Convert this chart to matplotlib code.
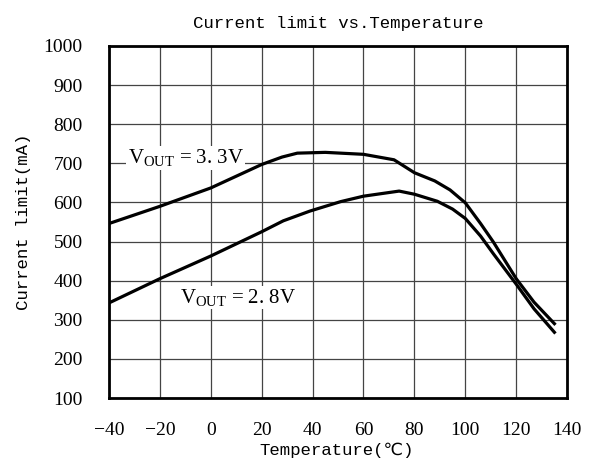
import matplotlib
matplotlib.use("Agg")
import matplotlib.pyplot as plt

# ---- data ----
temp_33 = [-40, -20, 0, 20, 28, 34, 45, 60, 72, 80, 88, 94, 100, 106, 111, 120, 127, 135]
cur_33 = [546, 590, 637, 697, 716, 726, 728, 723, 709, 676, 655, 632, 599, 546, 499, 405, 345, 290]

temp_28 = [-40, -20, 0, 20, 28.5, 39, 51, 60, 74, 80, 89, 95, 100, 106, 111, 120, 127, 135]
cur_28 = [343, 405, 463, 525, 553, 578, 602, 616, 629, 621, 603, 583, 559, 514, 469, 391, 328, 268]

x_ticks = [-40, -20, 0, 20, 40, 60, 80, 100, 120, 140]
y_ticks = [100, 200, 300, 400, 500, 600, 700, 800, 900, 1000]

title = "Current limit vs.Temperature"
x_label = "Temperature(℃)"
y_label = "Current limit(mA)"
label_33 = r"$\mathrm{V_{OUT}}$ = 3. 3V"
label_28 = r"$\mathrm{V_{OUT}}$ = 2. 8V"

plt.rcParams["mathtext.fontset"] = "custom"
plt.rcParams["mathtext.rm"] = "Liberation Serif"
plt.rcParams["mathtext.it"] = "Liberation Serif:italic"

serif = ["Liberation Serif", "DejaVu Serif"]
mono = ["Liberation Mono", "DejaVu Sans Mono", "DejaVu Sans"]

fig = plt.figure(figsize=(5.92, 4.62), dpi=100)
ax = fig.add_axes([0.184, 0.1385, 0.774, 0.762])

ax.plot(temp_33, cur_33, color="black", lw=2.3, solid_joinstyle="round", zorder=3)
ax.plot(temp_28, cur_28, color="black", lw=2.3, solid_joinstyle="round", zorder=3)

ax.set_xlim(-40, 140)
ax.set_ylim(100, 1000)
ax.set_xticks(x_ticks)
ax.set_yticks(y_ticks)
ax.set_xticklabels([str(v).replace("-", "\u2212") for v in x_ticks], family=serif, fontsize=14)
ax.set_yticklabels([str(v) for v in y_ticks], family=serif, fontsize=14)
ax.tick_params(axis="x", length=0, pad=17)
ax.tick_params(axis="y", length=0, pad=19)
ax.grid(True, color="#444444", lw=0.9)
ax.set_axisbelow(True)
for s in ax.spines.values():
    s.set_linewidth(2.0)
    s.set_zorder(5)

ax.text(-32.6, 700, label_33, family=serif, fontsize=15, ha="left", va="baseline",
        bbox=dict(facecolor="white", edgecolor="none", pad=1.0), zorder=4)
ax.text(-12.2, 343, label_28, family=serif, fontsize=15, ha="left", va="baseline",
        bbox=dict(facecolor="white", edgecolor="none", pad=1.0), zorder=4)

fig.text(0.571, 1 - 28 / 462, title, family=mono, fontsize=12.5, ha="center", va="baseline")
fig.text(0.568, 1 - 455 / 462, x_label, family=mono, fontsize=12.5, ha="center", va="baseline")
fig.text(23.5 / 592, 1 - 222 / 462, y_label, family=mono, fontsize=12.5, ha="center", va="center",
         rotation=90)

fig.savefig("out.png", dpi=100, facecolor="white")
